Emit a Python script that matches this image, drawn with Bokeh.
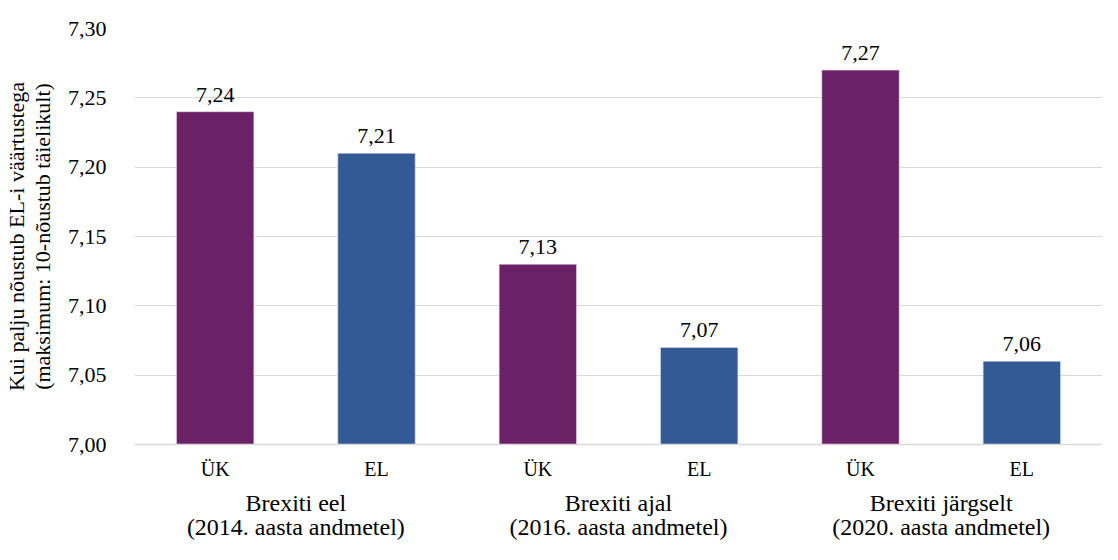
from bokeh.plotting import figure
from bokeh.models import FactorRange, ColumnDataSource, CustomJSTickFormatter, FixedTicker, LabelSet
from bokeh.core.properties import value
from bokeh.embed import file_html
from bokeh.resources import INLINE

groups = ["Brexiti eel\n(2014. aasta andmetel)",
          "Brexiti ajal\n(2016. aasta andmetel)",
          "Brexiti järgselt\n(2020. aasta andmetel)"]
subs = ["ÜK", "EL"]
uk_values = [7.24, 7.13, 7.27]
el_values = [7.21, 7.07, 7.06]
y_ticks = [7.00, 7.05, 7.10, 7.15, 7.20, 7.25, 7.30]
y_title = "Kui palju nõustub EL-i väärtustega\n(maksimum: 10-nõustub täielikult)"

colors_map = {"ÜK": "#6B2166", "EL": "#325B96"}

factors, vals, cols, labels = [], [], [], []
for g, u, e in zip(groups, uk_values, el_values):
    for s, v in zip(subs, [u, e]):
        factors.append((g, s))
        vals.append(v)
        cols.append(colors_map[s])
        labels.append(f"{v:.2f}".replace(".", ","))

src = ColumnDataSource(dict(x=factors, top=vals, color=cols, label=labels))

FONT = "Liberation Serif"

p = figure(x_range=FactorRange(*factors, range_padding=0, group_padding=0, subgroup_padding=0),
           y_range=(7.0, 7.30), width=1102, height=544,
           output_backend="svg", toolbar_location=None,
           min_border_left=134, min_border_right=0, min_border_top=28, min_border_bottom=100)
p.outline_line_color = None

p.vbar(x="x", top="top", bottom=7.0, width=0.48, source=src,
       fill_color="color", line_color="#e8e0ee", line_width=0.6)

ls = LabelSet(x="x", y="top", text="label", source=src, y_offset=10,
              text_align="center", text_baseline="bottom",
              text_font=value(FONT), text_font_size="22px", text_color="#000000")
p.add_layout(ls)

p.yaxis.ticker = FixedTicker(ticks=y_ticks)
p.yaxis.formatter = CustomJSTickFormatter(code="return tick.toFixed(2).replace('.', ',');")
p.yaxis.axis_line_color = None
p.yaxis.major_tick_line_color = None
p.yaxis.minor_tick_line_color = None
p.yaxis.major_label_text_font = FONT
p.yaxis.major_label_text_font_size = "22px"
p.yaxis.major_label_text_color = "#000000"
p.yaxis.major_label_standoff = 22
p.yaxis.axis_label = y_title
p.yaxis.axis_label_text_font = FONT
p.yaxis.axis_label_text_font_style = "normal"
p.yaxis.axis_label_text_font_size = "22px"
p.yaxis.axis_label_text_color = "#000000"
p.yaxis.axis_label_text_line_height = 1.05
p.yaxis.axis_label_standoff = 10

p.xaxis.axis_line_color = "#d9d9d9"
p.xaxis.axis_line_width = 1.5
p.xaxis.major_tick_line_color = None
p.xaxis.minor_tick_line_color = None
p.xaxis.major_label_text_font = FONT
p.xaxis.major_label_text_font_size = "20px"
p.xaxis.major_label_text_color = "#000000"
p.xaxis.major_label_standoff = 7
p.xaxis.group_text_font = FONT
p.xaxis.group_text_font_size = "24px"
p.xaxis.group_text_font_style = "normal"
p.xaxis.group_text_color = "#000000"
p.xaxis.group_text_line_height = 0.95
p.xaxis.group_label_orientation = "horizontal"
p.xaxis.separator_line_alpha = 0

p.xgrid.grid_line_color = None
p.ygrid.grid_line_color = "#d9d9d9"
p.ygrid.grid_line_width = 1.2

open("out.html", "w").write(file_html(p, INLINE))
